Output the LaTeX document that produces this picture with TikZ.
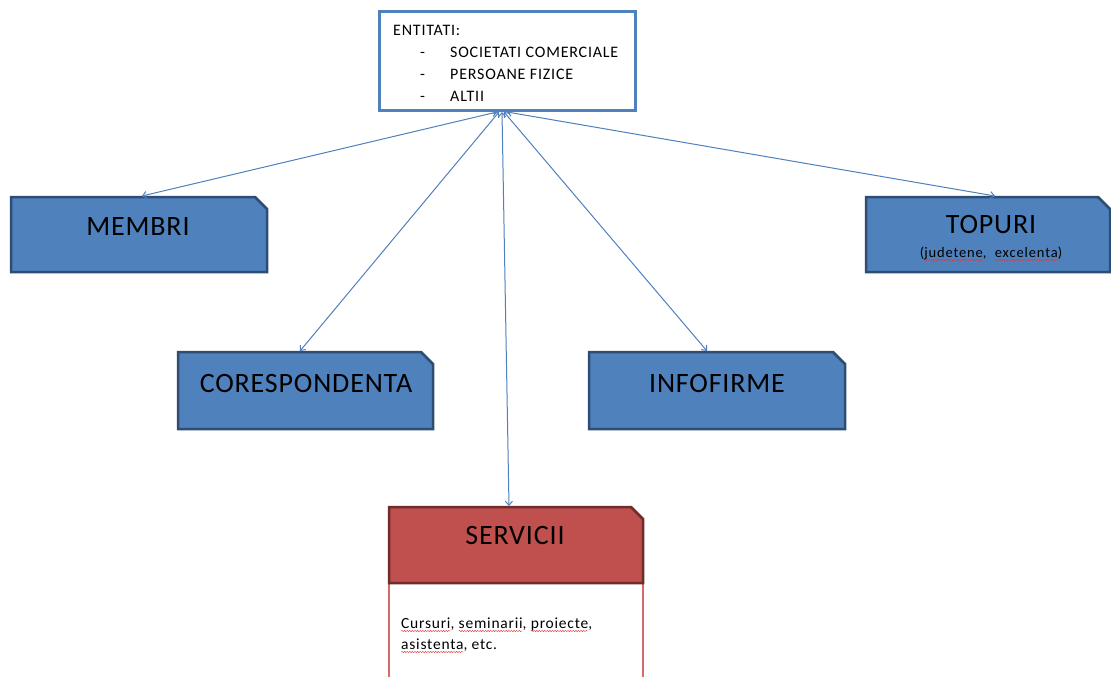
\documentclass[tikz,border=0pt]{standalone}
\usepackage{fontspec}
\setmainfont{Carlito}
\usetikzlibrary{arrows.meta,backgrounds,decorations.pathmorphing}

\definecolor{accent}{HTML}{4F81BD}
\definecolor{accentdark}{HTML}{2E4D74}
\definecolor{brick}{HTML}{C0504D}
\definecolor{brickdark}{HTML}{6E2D2B}
\definecolor{brickline}{HTML}{D46A67}
\definecolor{squiggle}{HTML}{E03A3A}

% red wavy underline for the words marked by the spell checker
\newsavebox\spellbox
\newcommand\spell[1]{\sbox\spellbox{#1}\rlap{\tikz[baseline=0pt,overlay]{%
  \draw[squiggle,line width=0.45pt,decorate,
        decoration={snake,amplitude=0.6pt,segment length=2.6pt}]
    (0pt,-3pt) -- (\wd\spellbox,-3pt);}}\usebox\spellbox}

% box with its top right corner cut off
\newcommand\snipbox[4]{%
  \path[fill=#2,draw=#3,line width=2.5pt,line join=miter]
    (#1.north west) -- ([xshift=-#4]#1.north east) -- ([yshift=-#4]#1.north east)
    -- (#1.south east) -- (#1.south west) -- cycle;}

\begin{document}
\begin{tikzpicture}[x=1pt,y=-1pt,
  area/.style={inner sep=0pt,outer sep=0pt},
  title/.style={inner sep=0pt,anchor=base,font=\fontsize{28}{33}\selectfont\addfontfeature{LetterSpace=3}},
  small/.style={inner sep=0pt,anchor=base west,font=\fontsize{16}{19}\selectfont\addfontfeature{LetterSpace=5}},
  note/.style={inner sep=0pt,anchor=base,font=\fontsize{14.5}{17}\selectfont\addfontfeature{LetterSpace=6}},
  body/.style={inner sep=0pt,anchor=base west,font=\fontsize{15.5}{19}\selectfont\addfontfeature{LetterSpace=5}},
  conn/.style={draw=accent,line width=1pt,<->,>={Straight Barb[length=4pt,width=7pt]}}]

\useasboundingbox (0,0) rectangle (1111,677);
\fill[white] (0,0) rectangle (1111,677);

% shape areas
\node[area,minimum width=256pt,minimum height=98pt] (ent) at (507,61) {};
\node[area,minimum width=256pt,minimum height=75pt] (membri) at (139,234.5) {};
\node[area,minimum width=244pt,minimum height=75pt] (topuri) at (988,234.5) {};
\node[area,minimum width=255pt,minimum height=77pt] (coresp) at (305.5,390.5) {};
\node[area,minimum width=256pt,minimum height=77pt] (infof) at (717,390.5) {};
\node[area,minimum width=254pt,minimum height=76pt] (serv) at (516,545) {};
\node[area,minimum width=254pt,minimum height=110pt] (servbody) at (516,638) {};

% outlines and fills
\draw[accent,line width=3pt,fill=white] (ent.north west) rectangle (ent.south east);
\snipbox{membri}{accent}{accentdark}{12pt}
\snipbox{topuri}{accent}{accentdark}{12pt}
\snipbox{coresp}{accent}{accentdark}{12pt}
\snipbox{infof}{accent}{accentdark}{12pt}
\draw[brickline,line width=2pt,fill=white] (servbody.north west) rectangle (servbody.south east);
\snipbox{serv}{brick}{brickdark}{12pt}

% texts
\node[small] (enttitle) at (393,35.5) {ENTITATI:};
\node[small] (d1) at (420,57.5) {-};
\node[small] (d2) at (420,79.5) {-};
\node[small] (d3) at (420,101.5) {-};
\node[small] (e1) at (450,57.5) {SOCIETATI COMERCIALE};
\node[small] (e2) at (450,79.5) {PERSOANE FIZICE};
\node[small] (e3) at (450,101.5) {ALTII};

\node[title] (membritxt) at (138,235) {MEMBRI};
\node[title] (topuritxt) at (991,233) {TOPURI};
\node[note] (topurinote) at (991,257) {(\spell{judetene},\ \ \spell{excelenta})};
\node[title] (coresptxt) at (306,392) {CORESPONDENTA};
\node[title] (infoftxt) at (717,392) {INFOFIRME};
\node[title] (servtxt) at (515,544) {SERVICII};
\node[body] (servl1) at (401,628) {\spell{Cursuri}, \spell{seminarii}, \spell{proiecte},};
\node[body] (servl2) at (401,649) {\spell{asistenta}, etc.};

% connectors
\draw[conn] ([xshift=-10pt,yshift=-2pt]ent.south) -- ([xshift=3pt,yshift=1pt]membri.north);
\draw[conn] ([xshift=-8pt,yshift=-2pt]ent.south) -- ([xshift=-5.5pt,yshift=1pt]coresp.north);
\draw[conn] ([xshift=-5pt,yshift=-2pt]ent.south) -- ([xshift=-7pt,yshift=1pt]serv.north);
\draw[conn] ([xshift=-3pt,yshift=-2pt]ent.south) -- ([xshift=-10pt,yshift=1pt]infof.north);
\draw[conn] ([xshift=0pt,yshift=-2pt]ent.south) -- ([xshift=7pt,yshift=1pt]topuri.north);

\end{tikzpicture}
\end{document}
